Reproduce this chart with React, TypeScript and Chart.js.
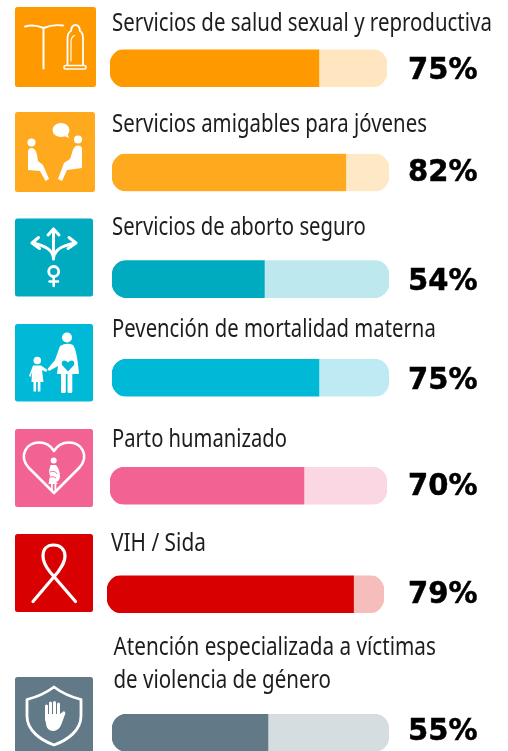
import React, { useEffect, useRef } from "react";
import Chart from "chart.js/auto";

// ---- data ----
const percentLabels = ["75%", "82%", "54%", "75%", "70%", "79%", "55%"];
// share of each track that is filled, as drawn in the picture
const filledShare = [75.4, 84.4, 55, 74.7, 70, 89, 56.3];
const titles = [
  ["Servicios de salud sexual y reproductiva"],
  ["Servicios amigables para jóvenes"],
  ["Servicios de aborto seguro"],
  ["Pevención de mortalidad materna"],
  ["Parto humanizado"],
  ["VIH / Sida"],
  ["Atención especializada a víctimas", "de violencia de género"],
];

// ---- styles and layout ----
const mainColors = ["#FF9900", "#FFA91F", "#00ABC0", "#00B9D6", "#F26394", "#D80000", "#627A88"];
const trackColors = ["#FFE5C0", "#FFE8C6", "#BDE8EE", "#BEEBF3", "#FBD6E3", "#F6BDBD", "#D6DDE1"];
const barBoxes = [
  { x: 110, y: 49.4 },
  { x: 112, y: 153.7 },
  { x: 112, y: 260.3 },
  { x: 112, y: 359 },
  { x: 110, y: 467 },
  { x: 107, y: 575.4 },
  { x: 112, y: 714 },
];
const BAR_W = 277;
const BAR_H = 37.6;
const iconBoxes = [
  { x: 15, y: 7, w: 81, h: 80 },
  { x: 15, y: 112, w: 80, h: 80 },
  { x: 15, y: 218.5, w: 78, h: 78 },
  { x: 15, y: 324, w: 78, h: 77.5 },
  { x: 15, y: 429, w: 78, h: 78 },
  { x: 15, y: 534, w: 78, h: 78 },
  { x: 15, y: 677, w: 78, h: 78 },
];
const titleLines = [
  [{ x: 112, y: 31, w: 380 }],
  [{ x: 112, y: 132, w: 315 }],
  [{ x: 112, y: 235, w: 254 }],
  [{ x: 112, y: 337, w: 324 }],
  [{ x: 112, y: 447, w: 175 }],
  [{ x: 111, y: 551, w: 95 }],
  [{ x: 113.5, y: 655, w: 322.5 }, { x: 113.5, y: 688, w: 217.5 }],
];
const percentBaselines = [79, 180.5, 290, 389, 495, 603, 740];

const TITLE_FONT = "26px 'Noto Sans'";
const PERCENT_FONT = "bold 30px 'DejaVu Sans'";

function xScale(text: string, font: string, width: number) {
  const ctx = document.createElement("canvas").getContext("2d")!;
  ctx.font = font;
  return width / ctx.measureText(text).width;
}

function BarRow({ index }: { index: number }) {
  const ref = useRef<HTMLCanvasElement>(null);
  const box = barBoxes[index];
  const top = Math.floor(box.y);
  const frac = box.y - top;
  const height = Math.ceil(frac + BAR_H);
  useEffect(() => {
    const chart = new Chart(ref.current!, {
      type: "bar",
      data: {
        labels: [titles[index].join(" ")],
        datasets: [
          {
            label: "Sí",
            data: [filledShare[index]],
            backgroundColor: mainColors[index],
            borderSkipped: false,
            borderWidth: 0,
            borderRadius: { topLeft: 15, bottomLeft: 15, topRight: 0, bottomRight: 0 },
          },
          {
            label: "Resto",
            data: [100 - filledShare[index]],
            backgroundColor: trackColors[index],
            borderSkipped: false,
            borderWidth: 0,
            borderRadius: { topLeft: 0, bottomLeft: 0, topRight: 15, bottomRight: 15 },
          },
        ],
      },
      options: {
        indexAxis: "y",
        responsive: false,
        animation: false,
        layout: { padding: { top: frac, bottom: height - frac - BAR_H, left: 0, right: 0 } },
        datasets: { bar: { barPercentage: 1, categoryPercentage: 1 } },
        plugins: { legend: { display: false }, tooltip: { enabled: false }, title: { display: false } },
        scales: {
          x: { display: false, stacked: true, min: 0, max: 100 },
          y: { display: false, stacked: true },
        },
      },
    });
    return () => chart.destroy();
  }, [index, frac, height]);
  return (
    <canvas
      ref={ref}
      width={BAR_W}
      height={height}
      style={{ position: "absolute", left: box.x, top, width: BAR_W, height, display: "block" }}
    />
  );
}

const W = "#FFFFFF";
const line = { fill: "none", stroke: W, strokeLinecap: "round", strokeLinejoin: "round" } as const;

function Glyphs() {
  return (
    <g>
      {/* IUD and condom */}
      <path d="M25 26.5 Q34 24 43.5 28 Q53 24 63 25.5" {...line} strokeWidth={1.9} />
      <path d="M43.5 28 V68.5" {...line} strokeWidth={2} />
      <path d="M67.5 65 V38 Q67.5 33 71 31 Q71.5 25 75.5 25 Q79.5 25 80 31 Q83 33 83 38 V65" {...line} strokeWidth={1.8} />
      <path d="M71 61 V42 Q71 37 74.5 35.5" {...line} strokeWidth={1.2} />
      <rect x={64} y={65.5} width={22} height={3.5} rx={1.7} {...line} strokeWidth={1.6} />

      {/* Two people talking */}
      <ellipse cx={61} cy={130} rx={8.5} ry={7} fill={W} />
      <path d="M62 135 L69 138 L66 130 Z" fill={W} />
      <circle cx={31.5} cy={142.5} r={4} fill={W} />
      <circle cx={78} cy={139.5} r={4} fill={W} />
      <path d="M28 152 Q28 148 32 148 Q36 149 37 155 L38 161 L43 165 L49 179 L45.5 181 L40 171 L28 170 Z" fill={W} />
      <path d="M82 149 Q82 145 77 145.5 Q73 147 72 153 L70 159 L64 163 L58 179 L62 181 L67 170 L82 168 Z" fill={W} />

      {/* Arrows and female symbol */}
      <path d="M53.5 259 V229" {...line} strokeWidth={3} />
      <path d="M48 235 L53.5 229 L59 235" {...line} strokeWidth={3} />
      <path d="M53.5 258 C52.5 250 46 246 33 243" {...line} strokeWidth={3} />
      <path d="M38.5 237.5 L32 243 L39.5 248.5" {...line} strokeWidth={3} />
      <path d="M53.5 258 C54.5 250 61 246 75 243" {...line} strokeWidth={3} />
      <path d="M69 237.5 L76 243 L68 248.5" {...line} strokeWidth={3} />
      <circle cx={53.7} cy={271.5} r={5} {...line} strokeWidth={2.8} />
      <path d="M53.7 277 V286 M49.5 281.5 H58" {...line} strokeWidth={2.6} />

      {/* Mother and child */}
      <circle cx={67} cy={337.5} r={5} fill={W} />
      <path d="M60 346 Q67 342 73 345 Q77 350 79 374 H57 L58 366 L49 371 L47.5 369 L55 360 Z" fill={W} />
      <rect x={61} y={372} width={4.8} height={21} rx={1.5} fill={W} />
      <rect x={67.5} y={372} width={4.8} height={21} rx={1.5} fill={W} />
      <path d="M68 371.5 L62 365 Q61 361 64 360.5 Q66.5 360.5 68 362.5 Q69.5 360.5 72 360.5 Q75 361 74 365 Z" fill="#00B9D6" />
      <circle cx={37.3} cy={360.5} r={3.8} fill={W} />
      <path d="M33 365.5 H41 L47.5 370 L46 372 L42 370 L43.5 382 H31.5 L32 372 L30.5 377 L29 376 Z" fill={W} />
      <rect x={33.5} y={381} width={2.6} height={10.5} fill={W} />
      <rect x={37.8} y={381} width={2.6} height={10.5} fill={W} />

      {/* Heart with pregnant woman */}
      <path d="M54 493 L28.5 467.5 C18 455 27 442.5 39 442.5 C46 442.5 51 446 54 451 C57 446 62 442.5 69 442.5 C81 442.5 90 455 79.5 467.5 Z" {...line} strokeWidth={2.6} />
      <circle cx={53.7} cy={460.5} r={3} fill={W} />
      <path d="M50.5 465 H56 Q60 470 60 476 Q60 481 56 482 L58 484 H48.5 L50 476 L49 471 Z" fill={W} />
      <rect x={51} y={483} width={1.8} height={8} fill={W} />
      <rect x={54.5} y={483} width={1.8} height={8} fill={W} />
      <path d="M50 472 Q55 470 57 474 M50 477 Q54 476 56 478" fill="none" stroke="#F26394" strokeWidth={0.9} />

      {/* Ribbon */}
      <path d="M33 601.5 L58 572 C62 566 65 562 65 556 C65 549 60 545 53.5 545 C47 545 43 549 43 556 C43 562 46 567 50 572 L75.5 601.5" {...line} strokeWidth={3.2} />

      {/* Shield with hand */}
      <path d="M54 687 C46 693 37 697 27 699.5 V716 C27 730 40 740 54 745 C68 740 81 730 81 716 V699.5 C71 697 62 693 54 687 Z" {...line} strokeWidth={2.8} />
      <path d="M46.5 706 V720 M50.5 703 V718 M54.5 702.5 V718 M58.5 704 V718" {...line} strokeWidth={3} />
      <path d="M45 714 H60 L64 711 L65.5 713 L61.5 724 Q59 731 53 731 Q47 731 46 724 Z" fill={W} />
    </g>
  );
}

export default function App() {
  return (
    <div style={{ position: "fixed", left: 0, top: 0, width: 508, height: 751, overflow: "hidden", background: "#fff" }}>
      {filledShare.map((_, i) => (
        <BarRow key={i} index={i} />
      ))}
      <svg width={508} height={751} viewBox="0 0 508 751" style={{ position: "absolute", left: 0, top: 0, pointerEvents: "none" }}>
        {iconBoxes.map((b, i) => (
          <rect key={i} x={b.x} y={b.y} width={b.w} height={b.h} rx={2.5} fill={mainColors[i]} />
        ))}
        <Glyphs />
        {titles.map((ls, i) =>
          ls.map((t, j) => {
            const l = titleLines[i][j];
            return (
              <text
                key={`${i}-${j}`}
                transform={`translate(${l.x} ${l.y}) scale(${xScale(t, TITLE_FONT, l.w)} 1)`}
                fontFamily="'Noto Sans'"
                fontSize={26}
                fill="#1D1D1B"
              >
                {t}
              </text>
            );
          })
        )}
        {percentLabels.map((t, i) => (
          <text
            key={i}
            transform={`translate(408 ${percentBaselines[i]}) scale(${xScale(t, PERCENT_FONT, 69.5)} 1)`}
            fontFamily="'DejaVu Sans'"
            fontWeight={700}
            fontSize={30}
            fill="#000"
            stroke="#000"
            strokeWidth={0.5}
          >
            {t}
          </text>
        ))}
      </svg>
    </div>
  );
}
